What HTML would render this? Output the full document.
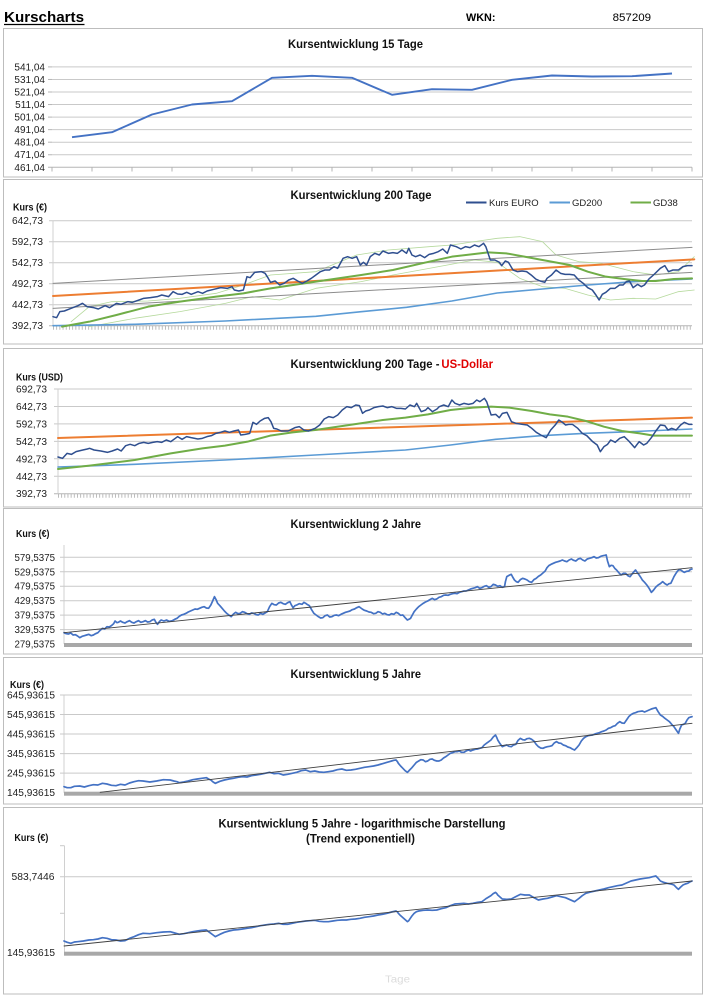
<!DOCTYPE html>
<html><head><meta charset="utf-8"><style>
html,body{margin:0;padding:0;background:#fff;}
svg{display:block;font-family:"Liberation Sans",Arial,sans-serif;}
.ns{vector-effect:non-scaling-stroke;fill:none;stroke-linejoin:round;stroke-linecap:round;}
.g{stroke:#c9c9c9;stroke-width:1;}
.lb{font-size:10px;fill:#222;}
.t{font-size:11.5px;font-weight:bold;fill:#111;}
.k{font-size:10px;font-weight:bold;fill:#111;}
.lg{font-size:9.5px;fill:#222;font-family:"Liberation Sans",Arial,sans-serif;}
</style></head><body>
<svg width="706" height="998" viewBox="0 0 706 998" xmlns="http://www.w3.org/2000/svg">
<rect width="706" height="998" fill="#fff"/>
<!-- Header -->
<text x="4" y="22" font-size="15" font-weight="bold" textLength="80" lengthAdjust="spacingAndGlyphs" fill="#000">Kurscharts</text>
<line x1="4" y1="24.5" x2="84.5" y2="24.5" stroke="#000" stroke-width="1.3"/>
<text x="466" y="21" font-size="11" font-weight="bold" textLength="29.5" lengthAdjust="spacingAndGlyphs">WKN:</text>
<text x="612.6" y="21" font-size="11" textLength="38.5" lengthAdjust="spacingAndGlyphs">857209</text>

<!-- Frames -->
<g fill="none" stroke="#bdbdbd" stroke-width="1">
<rect x="3.5" y="28.5" width="699" height="148.5"/>
<rect x="3.5" y="179.5" width="699" height="164.5"/>
<rect x="3.5" y="348.5" width="699" height="158.5"/>
<rect x="3.5" y="508.5" width="699" height="145.5"/>
<rect x="3.5" y="657.5" width="699" height="146.5"/>
<rect x="3.5" y="807.5" width="699" height="186.5"/>
</g>

<!-- ===== Chart 1 ===== -->
<text class="t" x="288" y="48" textLength="135" lengthAdjust="spacingAndGlyphs">Kursentwicklung 15 Tage</text>
<g class="g">
<line x1="52" x2="692" y1="66.9" y2="66.9"/><line x1="52" x2="692" y1="79.45" y2="79.45"/>
<line x1="52" x2="692" y1="92" y2="92"/><line x1="52" x2="692" y1="104.55" y2="104.55"/>
<line x1="52" x2="692" y1="117.1" y2="117.1"/><line x1="52" x2="692" y1="129.65" y2="129.65"/>
<line x1="52" x2="692" y1="142.2" y2="142.2"/><line x1="52" x2="692" y1="154.75" y2="154.75"/>
<line x1="48" x2="692" y1="167.3" y2="167.3" stroke="#b5b5b5"/>
</g>
<g stroke="#b5b5b5" stroke-width="1">
<line x1="48" x2="52" y1="66.9" y2="66.9"/><line x1="48" x2="52" y1="79.45" y2="79.45"/><line x1="48" x2="52" y1="92" y2="92"/><line x1="48" x2="52" y1="104.55" y2="104.55"/><line x1="48" x2="52" y1="117.1" y2="117.1"/><line x1="48" x2="52" y1="129.65" y2="129.65"/><line x1="48" x2="52" y1="142.2" y2="142.2"/><line x1="48" x2="52" y1="154.75" y2="154.75"/>
<line x1="52" x2="52" y1="167.3" y2="171.5"/><line x1="92" x2="92" y1="167.3" y2="171.5"/><line x1="132" x2="132" y1="167.3" y2="171.5"/><line x1="172" x2="172" y1="167.3" y2="171.5"/><line x1="212" x2="212" y1="167.3" y2="171.5"/><line x1="252" x2="252" y1="167.3" y2="171.5"/><line x1="292" x2="292" y1="167.3" y2="171.5"/><line x1="332" x2="332" y1="167.3" y2="171.5"/><line x1="372" x2="372" y1="167.3" y2="171.5"/><line x1="412" x2="412" y1="167.3" y2="171.5"/><line x1="452" x2="452" y1="167.3" y2="171.5"/><line x1="492" x2="492" y1="167.3" y2="171.5"/><line x1="532" x2="532" y1="167.3" y2="171.5"/><line x1="572" x2="572" y1="167.3" y2="171.5"/><line x1="612" x2="612" y1="167.3" y2="171.5"/><line x1="652" x2="652" y1="167.3" y2="171.5"/><line x1="692" x2="692" y1="167.3" y2="171.5"/>
</g>
<g class="lb" text-anchor="end">
<text x="45" y="70.4">541,04</text><text x="45" y="83">531,04</text><text x="45" y="95.5">521,04</text><text x="45" y="108">511,04</text><text x="45" y="120.6">501,04</text><text x="45" y="133.2">491,04</text><text x="45" y="145.7">481,04</text><text x="45" y="158.2">471,04</text><text x="45" y="170.8">461,04</text>
</g>
<polyline fill="none" stroke="#4472c4" stroke-width="1.9" stroke-linejoin="round" points="72,137.2 112,132.2 152,114.5 192,104.5 232,101.2 272,77.8 312,75.8 352,77.8 392,94.8 432,89.2 472,89.8 512,79.8 552,75.5 592,76.5 632,76.2 672,73.5"/>

<!-- ===== Chart 2 ===== -->
<text class="t" x="290.5" y="199" textLength="141" lengthAdjust="spacingAndGlyphs">Kursentwicklung 200 Tage</text>
<text class="k" x="13" y="210.5" textLength="34" lengthAdjust="spacingAndGlyphs">Kurs (€)</text>
<line x1="466" x2="486.5" y1="202.5" y2="202.5" stroke="#2f4f8f" stroke-width="2"/>
<text class="lg" x="489" y="206">Kurs EURO</text>
<line x1="549.5" x2="570" y1="202.5" y2="202.5" stroke="#5b9bd5" stroke-width="2"/>
<text class="lg" x="572" y="206">GD200</text>
<line x1="630.5" x2="651" y1="202.5" y2="202.5" stroke="#70ad47" stroke-width="2"/>
<text class="lg" x="653" y="206">GD38</text>
<g class="g">
<line x1="49" x2="692" y1="220.7" y2="220.7"/><line x1="49" x2="692" y1="241.7" y2="241.7"/><line x1="49" x2="692" y1="262.7" y2="262.7"/><line x1="49" x2="692" y1="283.7" y2="283.7"/><line x1="49" x2="692" y1="304.7" y2="304.7"/>
<line x1="49" x2="692" y1="325.7" y2="325.7" stroke="#b5b5b5"/>
<line x1="53" x2="53" y1="220.7" y2="325.7" stroke="#d0d0d0"/>
</g>
<line x1="53" x2="692" y1="327.7" y2="327.7" stroke="#b5b5b5" stroke-width="4" stroke-dasharray="0.9 2.3"/>
<g class="lb" text-anchor="end">
<text x="43" y="224.2" textLength="31" lengthAdjust="spacingAndGlyphs">642,73</text><text x="43" y="245.2" textLength="31" lengthAdjust="spacingAndGlyphs">592,73</text><text x="43" y="266.2" textLength="31" lengthAdjust="spacingAndGlyphs">542,73</text><text x="43" y="287.2" textLength="31" lengthAdjust="spacingAndGlyphs">492,73</text><text x="43" y="308.2" textLength="31" lengthAdjust="spacingAndGlyphs">442,73</text><text x="43" y="329.2" textLength="31" lengthAdjust="spacingAndGlyphs">392,73</text>
</g>
<g transform="translate(-1.38,175) scale(0.4532,0.33333)">
<polyline class="ns" stroke="#b5d99c" stroke-width="0.8" points="160,440 200,395 250,380 330,378 400,370 480,355 540,330 600,300 700,290 790,240 860,225 950,215 1000,210 1050,200 1100,190 1150,185 1200,200 1230,240 1280,260 1330,265 1400,290 1450,300 1500,290 1535,245"/>
<polyline class="ns" stroke="#b5d99c" stroke-width="0.8" points="200,455 300,430 400,410 500,385 560,365 620,375 700,340 800,320 870,300 950,280 1050,255 1100,262 1150,310 1200,335 1250,340 1300,360 1350,375 1400,370 1450,372 1500,350 1535,345"/>
<line class="ns" x1="120" y1="325" x2="1530" y2="217" stroke="#8c8c8c" stroke-width="1"/>
<line class="ns" x1="120" y1="400" x2="1530" y2="292" stroke="#8c8c8c" stroke-width="1"/>
<line class="ns" x1="120" y1="363" x2="1535" y2="253" stroke="#ed7d31" stroke-width="2"/>
<polyline class="ns" stroke="#5b9bd5" stroke-width="1.6" points="120,452 300,448 500,438 700,424 800,410 900,397 1000,378 1100,354 1200,342 1300,330 1400,320 1530,312"/>
<polyline class="ns" stroke="#70ad47" stroke-width="2" points="140,455 200,440 260,420 330,395 400,380 480,365 540,355 600,340 700,320 800,300 870,285 950,260 1000,245 1050,237 1080,232 1120,235 1160,245 1200,255 1260,270 1300,290 1340,305 1380,312 1420,318 1450,318 1490,312 1530,310"/>
<polyline class="ns" stroke="#2f4f8f" stroke-width="1.5" points="120,425 128,428 135,410 145,408 160,400 175,392 185,385 195,395 210,398 220,402 235,392 245,398 260,385 270,388 285,380 295,382 310,375 320,370 335,368 350,365 360,360 375,365 385,350 395,357 405,358 415,352 425,358 440,350 450,355 460,348 475,343 490,338 505,340 515,335 520,345 530,348 540,345 548,305 555,308 565,292 580,290 588,295 595,310 600,322 610,318 620,330 630,325 640,315 650,310 660,318 670,325 680,318 690,310 700,300 710,290 720,285 730,285 740,275 748,280 760,250 770,245 780,250 790,245 798,270 805,262 812,270 820,245 830,235 840,240 848,228 860,235 870,233 880,235 890,225 900,235 905,220 912,240 920,245 930,240 940,248 950,238 960,235 970,230 980,222 990,235 997,210 1010,215 1020,222 1030,215 1040,218 1050,210 1060,215 1070,205 1075,215 1085,255 1095,255 1105,262 1110,272 1118,258 1125,262 1135,285 1145,290 1155,288 1165,290 1175,300 1185,312 1195,318 1205,322 1210,310 1220,300 1230,285 1240,295 1250,298 1260,298 1270,300 1280,315 1290,325 1300,338 1310,345 1318,360 1325,375 1332,358 1340,352 1350,340 1360,340 1370,330 1378,330 1385,320 1392,318 1400,338 1410,328 1418,335 1425,330 1435,312 1445,300 1460,280 1470,272 1478,290 1488,285 1500,285 1510,275 1520,272 1530,272"/>
</g>

<!-- ===== Chart 3 ===== -->
<text class="t" x="290.5" y="368" textLength="149" lengthAdjust="spacingAndGlyphs">Kursentwicklung 200 Tage - </text>
<text class="t" x="441.4" y="368" textLength="51.6" lengthAdjust="spacingAndGlyphs" style="fill:#e00000">US-Dollar</text>
<text class="k" x="16" y="380.5" textLength="47" lengthAdjust="spacingAndGlyphs">Kurs (USD)</text>
<g class="g">
<line x1="54" x2="692" y1="389" y2="389"/><line x1="54" x2="692" y1="406.45" y2="406.45"/><line x1="54" x2="692" y1="423.9" y2="423.9"/><line x1="54" x2="692" y1="441.35" y2="441.35"/><line x1="54" x2="692" y1="458.8" y2="458.8"/><line x1="54" x2="692" y1="476.25" y2="476.25"/>
<line x1="54" x2="692" y1="493.7" y2="493.7" stroke="#b5b5b5"/>
<line x1="58" x2="58" y1="389" y2="493.7" stroke="#d0d0d0"/>
</g>
<line x1="58" x2="692" y1="495.7" y2="495.7" stroke="#b5b5b5" stroke-width="4" stroke-dasharray="0.9 2.27"/>
<g class="lb" text-anchor="end">
<text x="47" y="392.5" textLength="31" lengthAdjust="spacingAndGlyphs">692,73</text><text x="47" y="410" textLength="31" lengthAdjust="spacingAndGlyphs">642,73</text><text x="47" y="427.4" textLength="31" lengthAdjust="spacingAndGlyphs">592,73</text><text x="47" y="444.9" textLength="31" lengthAdjust="spacingAndGlyphs">542,73</text><text x="47" y="462.3" textLength="31" lengthAdjust="spacingAndGlyphs">492,73</text><text x="47" y="479.8" textLength="31" lengthAdjust="spacingAndGlyphs">442,73</text><text x="47" y="497.2" textLength="31" lengthAdjust="spacingAndGlyphs">392,73</text>
</g>
<g transform="translate(-0.66,345) scale(0.4512,0.33333)">
<line class="ns" x1="130" y1="279" x2="1535" y2="218" stroke="#ed7d31" stroke-width="2"/>
<polyline class="ns" stroke="#5b9bd5" stroke-width="1.6" points="130,366 300,358 500,345 700,330 900,315 1000,300 1100,283 1200,272 1300,265 1400,260 1535,252"/>
<polyline class="ns" stroke="#70ad47" stroke-width="2" points="130,372 200,362 300,345 380,325 450,310 500,302 550,290 600,272 650,262 700,255 800,235 850,225 900,218 950,208 1000,195 1050,188 1090,185 1130,188 1180,198 1220,208 1260,215 1300,228 1340,245 1380,258 1420,265 1450,272 1480,272 1535,272"/>
<polyline class="ns" stroke="#2f4f8f" stroke-width="1.5" points="130,336 140,340 150,325 160,328 170,320 185,315 195,312 200,310 210,315 225,318 240,322 250,318 262,312 270,318 280,302 290,298 300,302 310,295 320,292 330,295 340,292 350,290 360,292 370,285 380,290 395,275 405,283 415,275 425,278 440,282 450,280 460,275 470,272 480,265 490,262 500,258 510,262 520,258 530,255 535,270 545,268 555,265 562,232 570,238 578,228 588,220 596,218 602,230 608,250 615,252 625,258 640,258 655,248 665,245 675,255 685,258 700,250 710,240 720,222 730,215 740,218 750,210 760,195 770,185 780,188 790,180 798,182 805,205 812,198 820,195 830,188 840,185 850,183 860,188 870,185 880,190 890,190 900,192 910,180 920,185 925,175 935,200 945,195 950,188 960,200 970,192 975,185 985,180 995,185 1003,165 1010,175 1020,180 1030,175 1040,178 1050,175 1058,165 1065,170 1075,160 1080,170 1090,210 1100,208 1108,218 1115,205 1125,202 1135,230 1145,235 1160,238 1170,240 1180,250 1190,262 1200,270 1212,278 1222,255 1232,240 1240,225 1248,232 1255,240 1262,238 1270,238 1282,250 1292,265 1302,272 1315,290 1325,300 1332,320 1340,305 1348,298 1355,285 1365,292 1375,280 1385,275 1395,288 1408,308 1418,290 1428,300 1435,295 1445,278 1455,258 1465,240 1475,242 1482,255 1490,250 1500,255 1510,240 1518,232 1528,238 1535,238"/>
</g>

<!-- ===== Chart 4 ===== -->
<text class="t" x="290.5" y="528" textLength="130.5" lengthAdjust="spacingAndGlyphs">Kursentwicklung 2 Jahre</text>
<text class="k" x="16" y="537" textLength="33.5" lengthAdjust="spacingAndGlyphs">Kurs (€)</text>
<g class="g">
<line x1="64" x2="64" y1="545" y2="644" stroke="#d0d0d0"/>
<line x1="60" x2="692" y1="557.3" y2="557.3"/><line x1="60" x2="692" y1="571.8" y2="571.8"/><line x1="60" x2="692" y1="586.2" y2="586.2"/><line x1="60" x2="692" y1="600.7" y2="600.7"/><line x1="60" x2="692" y1="615.1" y2="615.1"/><line x1="60" x2="692" y1="629.6" y2="629.6"/>
</g>
<rect x="64" y="643" width="628" height="4" fill="#a8a8a8"/>
<g class="lb" text-anchor="end">
<text x="55" y="560.8" textLength="40.5" lengthAdjust="spacingAndGlyphs">579,5375</text><text x="55" y="575.3" textLength="40.5" lengthAdjust="spacingAndGlyphs">529,5375</text><text x="55" y="589.7" textLength="40.5" lengthAdjust="spacingAndGlyphs">479,5375</text><text x="55" y="604.2" textLength="40.5" lengthAdjust="spacingAndGlyphs">429,5375</text><text x="55" y="618.6" textLength="40.5" lengthAdjust="spacingAndGlyphs">379,5375</text><text x="55" y="633.1" textLength="40.5" lengthAdjust="spacingAndGlyphs">329,5375</text><text x="55" y="647.5" textLength="40.5" lengthAdjust="spacingAndGlyphs">279,5375</text>
</g>
<g transform="translate(-1.5,505) scale(0.4518,0.33333)">
<polyline class="ns" stroke="#4472c4" stroke-width="1.7" points="145,383 150,386 155,387 160,384 165,390 170,389 175,393 180,398 185,394 190,392 195,390 200,388 205,392 210,390 215,386 220,383 225,376 230,370 235,372 240,365 245,366 250,362 255,356 258,348 262,353 265,352 270,348 275,352 280,354 285,350 290,347 295,352 300,354 305,350 310,347 315,352 320,350 325,347 330,351 335,350 340,345 345,343 348,351 352,358 356,350 360,345 366,348 372,345 378,349 385,347 390,343 395,340 400,334 405,330 410,328 415,325 420,321 425,318 430,315 435,312 440,313 445,310 450,307 455,305 460,309 465,310 470,300 474,288 478,275 482,285 485,295 490,302 495,310 500,318 505,325 510,330 515,335 520,327 525,322 530,326 535,325 540,320 545,322 550,326 555,328 560,324 565,325 570,329 575,330 580,325 585,328 590,324 595,320 600,305 605,295 610,299 615,300 620,294 625,292 630,296 635,298 640,293 645,290 648,299 652,308 656,302 660,300 666,296 672,298 676,292 680,295 684,299 688,302 693,314 698,325 703,330 708,335 713,339 718,338 723,332 728,330 733,336 738,335 743,331 748,330 753,332 758,328 763,325 768,322 773,320 778,318 783,314 788,312 793,308 798,305 802,309 805,312 810,316 815,318 820,321 825,322 830,326 835,325 840,320 845,322 850,327 855,325 860,329 865,330 870,326 875,328 880,322 885,325 890,331 895,330 900,338 905,345 908,343 912,340 916,330 920,320 925,312 930,305 935,300 940,295 945,291 950,288 955,284 960,280 965,284 970,282 975,277 980,275 985,271 990,270 995,271 1000,268 1005,266 1010,265 1015,266 1020,262 1025,260 1030,258 1035,258 1040,255 1045,252 1050,250 1055,248 1060,245 1065,250 1070,248 1075,244 1080,242 1085,247 1090,245 1095,238 1100,240 1105,244 1110,242 1115,247 1120,245 1122,230 1125,215 1130,211 1135,208 1138,216 1142,225 1146,230 1150,232 1155,224 1160,220 1165,222 1170,225 1175,230 1180,232 1185,224 1190,220 1195,214 1200,210 1205,204 1210,198 1214,188 1218,182 1223,178 1228,175 1233,172 1238,170 1243,168 1248,165 1253,168 1258,170 1263,165 1268,162 1273,166 1278,168 1283,162 1288,160 1293,165 1298,168 1303,162 1308,160 1313,158 1318,155 1323,159 1328,158 1333,154 1338,152 1342,151 1345,150 1348,168 1352,185 1356,181 1360,182 1364,190 1368,195 1373,203 1378,210 1383,205 1388,205 1393,212 1398,215 1404,204 1410,195 1414,203 1418,210 1422,218 1425,225 1430,232 1435,240 1440,250 1445,262 1448,258 1450,255 1455,246 1460,240 1465,236 1470,230 1475,236 1480,240 1484,236 1488,235 1492,224 1495,215 1499,206 1503,198 1507,194 1510,195 1514,199 1518,202 1523,199 1528,198 1531,194 1535,192"/>
<line class="ns" x1="145" y1="383" x2="1535" y2="188" stroke="#404040" stroke-width="0.9"/>
</g>

<!-- ===== Chart 5 ===== -->
<text class="t" x="290.5" y="678" textLength="130.5" lengthAdjust="spacingAndGlyphs">Kursentwicklung 5 Jahre</text>
<text class="k" x="10" y="688" textLength="34" lengthAdjust="spacingAndGlyphs">Kurs (€)</text>
<g class="g">
<line x1="64" x2="64" y1="695" y2="792.7" stroke="#d0d0d0"/>
<line x1="60" x2="692" y1="695" y2="695"/><line x1="60" x2="692" y1="714.5" y2="714.5"/><line x1="60" x2="692" y1="734" y2="734"/><line x1="60" x2="692" y1="753.6" y2="753.6"/><line x1="60" x2="692" y1="773.1" y2="773.1"/>
</g>
<rect x="64" y="791.7" width="628" height="4" fill="#a8a8a8"/>
<g class="lb" text-anchor="end">
<text x="55" y="698.5" textLength="48" lengthAdjust="spacingAndGlyphs">645,93615</text><text x="55" y="718" textLength="48" lengthAdjust="spacingAndGlyphs">545,93615</text><text x="55" y="737.5" textLength="48" lengthAdjust="spacingAndGlyphs">445,93615</text><text x="55" y="757.1" textLength="48" lengthAdjust="spacingAndGlyphs">345,93615</text><text x="55" y="776.6" textLength="48" lengthAdjust="spacingAndGlyphs">245,93615</text><text x="55" y="796.2" textLength="48" lengthAdjust="spacingAndGlyphs">145,93615</text>
</g>
<g transform="translate(-1.5,655) scale(0.4518,0.33333)">
<polyline class="ns" stroke="#4472c4" stroke-width="1.7" points="145,395 152,398 160,398 168,394 180,393 190,396 200,392 210,389 220,390 230,385 240,387 250,391 260,392 270,388 280,390 290,384 300,380 310,377 320,378 335,381 350,378 365,374 380,375 388,378 395,380 400,383 410,381 420,378 430,374 440,372 450,370 460,368 465,372 470,375 475,381 480,385 490,379 500,375 510,372 520,370 530,367 540,365 550,366 560,362 570,360 580,358 590,355 600,352 610,356 620,355 630,360 640,358 650,355 660,352 670,347 680,345 690,350 700,348 710,351 720,352 730,350 740,348 750,344 760,342 770,346 780,345 790,343 800,340 810,337 820,335 830,333 840,330 850,326 860,322 865,320 870,318 875,316 880,315 883,320 885,325 890,333 895,340 900,347 905,352 908,348 910,345 915,338 920,330 925,322 930,318 935,314 940,315 945,320 950,318 955,313 960,312 965,316 970,318 975,318 980,315 985,309 990,305 995,300 1000,295 1005,293 1010,290 1015,290 1020,288 1025,292 1030,292 1035,288 1040,285 1045,288 1050,285 1055,283 1060,282 1065,280 1070,278 1075,270 1080,265 1085,260 1090,255 1095,246 1100,240 1103,248 1105,255 1110,266 1115,275 1120,272 1125,270 1130,274 1135,275 1140,270 1145,268 1150,256 1155,250 1160,254 1165,255 1170,251 1175,250 1180,253 1185,258 1190,268 1195,275 1200,279 1205,280 1210,277 1215,275 1220,274 1225,272 1230,264 1235,260 1240,264 1245,265 1250,270 1255,272 1260,276 1265,278 1270,282 1275,285 1280,278 1285,270 1290,258 1295,250 1300,245 1305,242 1310,241 1315,240 1320,237 1325,235 1330,233 1335,230 1340,228 1345,225 1350,220 1355,218 1360,214 1365,212 1370,205 1375,200 1380,204 1385,205 1390,195 1395,185 1400,179 1405,175 1410,173 1415,170 1420,169 1425,168 1430,171 1435,168 1440,165 1445,162 1450,160 1455,158 1460,170 1465,180 1470,184 1475,190 1480,195 1485,200 1490,208 1495,215 1500,225 1505,235 1508,222 1512,210 1516,208 1520,205 1524,195 1528,188 1532,186 1535,185"/>
<line class="ns" x1="225" y1="412" x2="1535" y2="205" stroke="#404040" stroke-width="0.9"/>
</g>

<!-- ===== Chart 6 ===== -->
<text class="t" x="218.5" y="827.5" textLength="287" lengthAdjust="spacingAndGlyphs">Kursentwicklung 5 Jahre - logarithmische Darstellung</text>
<text class="t" x="306" y="842.5" textLength="109" lengthAdjust="spacingAndGlyphs">(Trend exponentiell)</text>
<text class="k" x="14.4" y="841" textLength="34" lengthAdjust="spacingAndGlyphs">Kurs (€)</text>
<g class="g">
<line x1="64.5" x2="64.5" y1="845.7" y2="952.7" stroke="#d0d0d0"/>
<line x1="60" x2="64.5" y1="845.7" y2="845.7"/><line x1="60" x2="64.5" y1="913.3" y2="913.3"/>
<line x1="60" x2="692" y1="876.7" y2="876.7"/>
</g>
<rect x="64" y="951.7" width="628" height="4" fill="#a8a8a8"/>
<g class="lb" text-anchor="end">
<text x="54.5" y="880.2" textLength="43" lengthAdjust="spacingAndGlyphs">583,7446</text>
<text x="55" y="956.2" textLength="48" lengthAdjust="spacingAndGlyphs">145,93615</text>
</g>
<g transform="translate(-1.5,805) scale(0.4518,0.33333)">
<polyline class="ns" stroke="#4472c4" stroke-width="1.7" points="145,408 152,412 160,415 168,411 175,410 188,408 200,405 210,404 220,402 230,398 240,400 250,404 260,405 270,408 280,407 290,400 300,395 310,389 320,385 335,386 350,383 365,381 380,380 390,384 400,388 410,386 420,383 430,380 440,378 450,376 460,375 465,380 470,385 475,390 480,395 490,388 500,382 510,378 520,375 530,374 540,372 550,370 560,368 570,365 580,362 590,360 600,358 610,357 620,355 630,358 640,358 650,355 660,352 670,350 680,348 690,347 700,346 710,349 720,350 730,350 740,348 750,346 760,345 770,345 780,343 790,342 800,340 810,337 820,335 830,333 840,330 850,328 860,325 870,321 880,318 883,321 885,325 890,332 895,338 900,344 905,350 908,347 910,343 915,333 920,325 925,320 930,318 940,316 950,315 960,316 970,315 980,311 990,308 1000,302 1010,297 1020,296 1030,295 1040,297 1050,295 1060,292 1070,290 1075,285 1080,280 1085,276 1090,272 1095,266 1100,262 1103,266 1105,270 1110,276 1115,282 1125,283 1135,282 1145,275 1155,268 1165,270 1175,270 1185,278 1195,285 1205,282 1215,280 1225,276 1235,272 1245,275 1255,278 1265,284 1275,290 1280,285 1285,280 1292,272 1300,265 1310,261 1320,258 1330,255 1340,252 1350,248 1360,245 1370,242 1380,240 1390,234 1400,228 1410,225 1420,222 1430,220 1440,218 1448,215 1455,213 1460,220 1465,228 1472,232 1480,235 1488,237 1495,240 1500,247 1505,253 1510,246 1515,240 1520,237 1525,235 1530,231 1535,228"/>
<line class="ns" x1="145" y1="423" x2="1535" y2="228" stroke="#404040" stroke-width="0.9"/>
</g>
<text x="385" y="982.5" font-size="10" fill="#dcdcdc" textLength="25" lengthAdjust="spacingAndGlyphs">Tage</text>
</svg>
</body></html>
